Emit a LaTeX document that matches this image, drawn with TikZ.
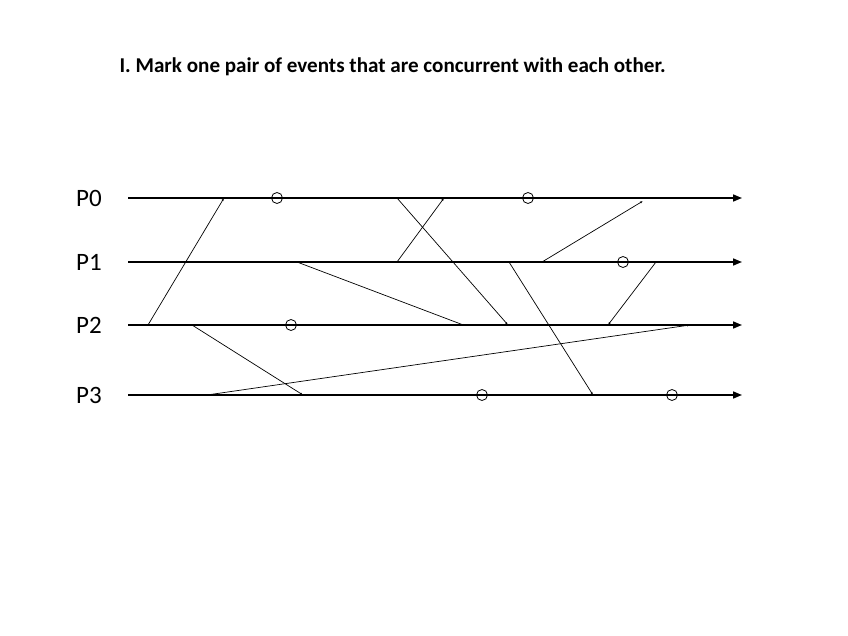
\documentclass[tikz,border=0pt]{standalone}
\usepackage{fontspec}
\setmainfont{Carlito}
\usetikzlibrary{arrows.meta, positioning}

\begin{document}
\begin{tikzpicture}[
        x = 1pt, y = -1pt,
        proc/.style = {draw, line width=1.6pt, -{Triangle[length=9pt, width=7pt]}},
        msg/.style = {draw, line width=0.7pt, -{Latex[length=3pt, width=2.2pt]}},
        event/.style = {circle, draw, line width=0.8pt, inner sep=0pt, minimum size=11pt},
        plabel/.style = {font=\fontsize{25}{30}\selectfont}
    ]
    \useasboundingbox (0,0) rectangle (848,636);

    % Title
    \node (title) [anchor=west, font=\fontsize{21.1}{25}\selectfont\bfseries] at (116,67)
        {I. Mark one pair of events that are concurrent with each other.};

    % Process lines
    \node (p0) [plabel] at (89,198) {P0};
    \node (p1) [plabel] at (89,262) {P1};
    \node (p2) [plabel] at (89,325) {P2};
    \node (p3) [plabel] at (89,395) {P3};
    \coordinate (p0s) at (128,198); \coordinate (p0e) at (742,198);
    \coordinate (p1s) at (128,262); \coordinate (p1e) at (742,262);
    \coordinate (p2s) at (128,325); \coordinate (p2e) at (742,325);
    \coordinate (p3s) at (128,395); \coordinate (p3e) at (742,395);
    \path [proc] (p0s) -- (p0e);
    \path [proc] (p1s) -- (p1e);
    \path [proc] (p2s) -- (p2e);
    \path [proc] (p3s) -- (p3e);

    % Send and receive points
    \coordinate (s1) at (148,325); \coordinate (r1) at (224,198);
    \coordinate (s2) at (397,198); \coordinate (r2) at (508,325);
    \coordinate (s3) at (397,262); \coordinate (r3) at (444,198);
    \coordinate (s4) at (297,262); \coordinate (r4) at (466,326);
    \coordinate (s5) at (192,325); \coordinate (r5) at (303,395);
    \coordinate (s6) at (207,395); \coordinate (r6) at (690,325);
    \coordinate (s7) at (542,262); \coordinate (r7) at (643,201);
    \coordinate (s8) at (656,262); \coordinate (r8) at (608,325);
    \coordinate (s9) at (509,262); \coordinate (r9) at (593,395);

    % Messages
    \path [msg] (s1) -- (r1);
    \path [msg] (s2) -- (r2);
    \path [msg] (s3) -- (r3);
    \path [msg] (s4) -- (r4);
    \path [msg] (s5) -- (r5);
    \path [msg] (s6) -- (r6);
    \path [msg] (s7) -- (r7);
    \path [msg] (s8) -- (r8);
    \path [msg] (s9) -- (r9);

    % Local events
    \node (e1) [event] at (277,198) {};
    \node (e2) [event] at (528,198) {};
    \node (e3) [event] at (623,262) {};
    \node (e4) [event] at (291,325) {};
    \node (e5) [event] at (482,395) {};
    \node (e6) [event] at (672,395) {};

\end{tikzpicture}
\end{document}
